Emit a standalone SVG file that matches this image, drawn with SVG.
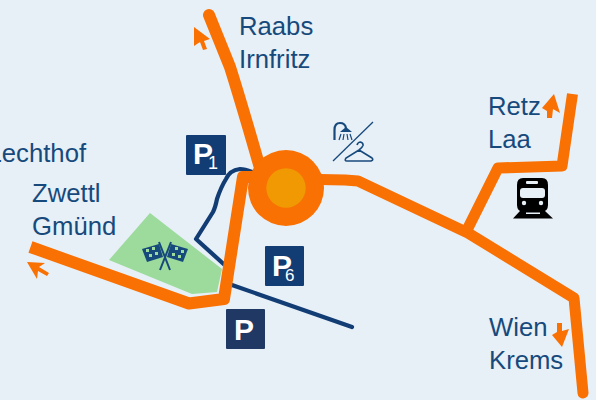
<svg xmlns="http://www.w3.org/2000/svg" width="596" height="400" viewBox="0 0 596 400">
<style>
.t{font-family:"Liberation Sans",Arial,sans-serif;font-size:25.7px;fill:#174a7c}
.r{fill:none;stroke:#f97003;stroke-linejoin:round}
.a{fill:#f97003}
.p{fill:#113c74}
.pt{font-family:"Liberation Sans",Arial,sans-serif;fill:#fff}
.ic{fill:none;stroke:#174a7c}
</style>
<rect width="596" height="400" fill="#e7eff7"/>
<g id="finish-area">
<path d="M150 213L109 260L192 294L217 292L222 269Z" fill="#9cdb9b"/>
<g class="ic">
<path d="M159 242L170 270M171 242L160 270" stroke-width="2"/>
<path d="M142 249L159 244L163 257L147 262Z" fill="#174a7c" stroke="none"/>
<path d="M171 244L188 249L183 262L167 257Z" fill="#174a7c" stroke="none"/>
</g>
<g fill="#9cdb9b">
<rect x="146" y="249" width="3" height="3"/><rect x="152" y="247" width="3" height="3"/><rect x="149" y="254" width="3" height="3"/><rect x="155" y="252" width="3" height="3"/>
<rect x="175" y="247" width="3" height="3"/><rect x="181" y="250" width="3" height="3"/><rect x="172" y="253" width="3" height="3"/><rect x="178" y="255" width="3" height="3"/>
</g>
</g>
<g id="connectors">
<path d="M252 172Q245 169 240 169C233 170 228 174 226 179C221 187 219 193 217 199C216 204 215 208 213 212L196 239L228 268M232 285L352 327" fill="none" stroke="#113c74" stroke-width="4.200" stroke-linecap="round" stroke-linejoin="round"/>
<g class="r">
<path d="M209 15L230 67Q242 105 262 175" stroke-width="12" stroke-linecap="round"/>
<path d="M30.500 247L189 303.500L224 299L243 177L255 177" stroke-width="12"/>
<path d="M320 179.500L345 180L358 181L468 233L574 298L583 393" stroke-width="11" stroke-linecap="round"/>
<path d="M466 232L498 168L562 166L572.500 94" stroke-width="11"/>
</g>
</g>
<g id="roundabout">
<circle cx="286" cy="188" r="38" fill="#f97003"/>
<circle cx="286" cy="188" r="19.700" fill="#f19902"/>
</g>
<g id="parking-p1"><rect x="186" y="135" width="40" height="40" rx="1" class="p"/><text x="193" y="164" class="pt" font-size="30" font-weight="bold">P</text><text x="208" y="169" class="pt" font-size="18">1</text></g>
<g id="parking-p6"><rect x="265" y="246" width="39" height="40" rx="1" class="p"/><text x="272" y="276" class="pt" font-size="30" font-weight="bold">P</text><text x="285" y="281" class="pt" font-size="17">6</text></g>
<g id="parking-p"><rect x="226" y="309" width="39" height="40" rx="1" fill="#203864"/><text x="234" y="340" class="pt" font-size="30" font-weight="bold">P</text></g>
<g id="labels">
<text x="239" y="35" class="t">Raabs</text>
<text x="239" y="68" class="t">Irnfritz</text>
<text x="488" y="115" class="t">Retz</text>
<text x="488" y="148" class="t">Laa</text>
<text x="-12.500" y="162" class="t">Lechthof</text>
<text x="32" y="202" class="t">Zwettl</text>
<text x="32" y="235" class="t">Gmünd</text>
<text x="489" y="336" class="t">Wien</text>
<text x="489" y="369" class="t">Krems</text>
</g>
<g id="arrows" class="a">
<path d="M194 27L210 39L204 41L207 49L203 50L200 42L194 46Z"/>
<path d="M554 94L560 113L553 109L552 118L547 118L547 111L542 108Z"/>
<path d="M27 262L45 263L39 267L49 273L47 276L38 271L37 279Z"/>
<path d="M562 347L552 335L557 332L557 323L562 323L562 331L569 329Z"/>
</g>
<g id="shower-hanger" class="ic" stroke-width="1.600">
<path d="M373 122L333 161" stroke-width="1.300"/>
<path d="M334.500 140V130Q334.500 123 340 123Q345 123 346 128" stroke-width="2.200"/>
<path d="M346 127L352 132H340Z" fill="#174a7c" stroke="none"/>
<path d="M339 140L341 134M343 140L344 134M348 140L347 134M352 140L350 134" stroke-width="1.200"/>
<path d="M357 145Q358 142 360.500 142Q363.500 143 363 145.500Q362 148 359 150L346 158Q344 161 347 161H371Q374 160 372 158L359 150"/>
</g>
<g id="train">
<path d="M523 178H542Q548 178 548 185V205Q548 212 541 212H524Q517 212 517 205V185Q517 178 523 178Z" fill="#000"/>
<rect x="520" y="188" width="25" height="10" rx="3" fill="#e7eff7"/>
<rect x="526" y="181" width="12" height="3" rx="1" fill="#e7eff7"/>
<circle cx="524" cy="203" r="2.200" fill="#e7eff7"/><circle cx="541" cy="203" r="2.200" fill="#e7eff7"/>
<path d="M520 211H545L553 218.500H513Z" fill="#000"/>
<rect x="526" y="212.500" width="14" height="1.500" fill="#e7eff7"/>
</g>
</svg>
